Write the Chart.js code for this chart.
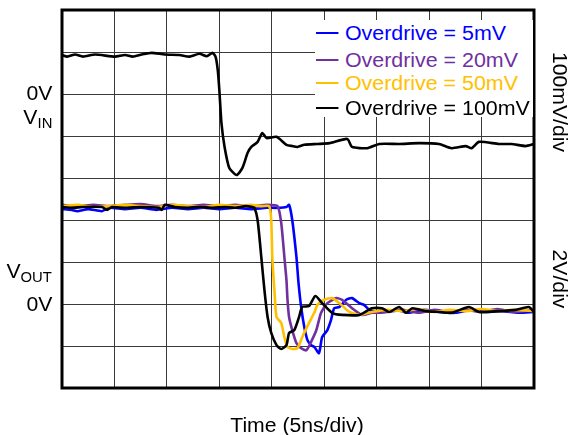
<!DOCTYPE html>
<html>
<head>
<meta charset="utf-8">
<script src="https://cdn.jsdelivr.net/npm/chart.js@4/dist/chart.umd.min.js"></script>
<style>
  body { margin: 0; background: #fff; }
  #wrap { position: relative; width: 569px; height: 435px; font-family: "Liberation Sans", Arial, sans-serif; }
  #plot { position: absolute; left: 0; top: 0; }
  .lbl { position: absolute; font-size: 20px; line-height: 20px; color: #000; white-space: nowrap; }
  .lbl sub { font-size: 14px; vertical-align: -4px; line-height: 0; }
  .left { right: 517px; text-align: right; transform: scaleX(1.06); transform-origin: right center; }
  .rot { width: 200px; text-align: center; transform: rotate(90deg) scaleX(1.06); }
  #legend { position: absolute; left: 315px; top: 20px; width: 218px; height: 97px; background: #fff; }
  #legend div { position: absolute; left: 1px; font-size: 20px; line-height: 20px; white-space: nowrap; transform: scaleX(1.07); transform-origin: left center; }
  #legend span { display: inline-block; width: 21px; border-top: 2px solid; vertical-align: 6px; margin-right: 6px; }
</style>
</head>
<body>
<div id="wrap">
  <canvas id="plot" width="569" height="435"></canvas>
  <div class="lbl left" style="top:83px">0V</div>
  <div class="lbl left" style="top:107px">V<sub>IN</sub></div>
  <div class="lbl left" style="top:261px">V<sub>OUT</sub></div>
  <div class="lbl left" style="top:294px">0V</div>
  <div class="lbl rot" style="left:460px; top:92px">100mV/div</div>
  <div class="lbl rot" style="left:460px; top:269px">2V/div</div>
  <div class="lbl" style="left:97px; top:415px; width:400px; text-align:center; transform:scaleX(1.06)">Time (5ns/div)</div>
  <div id="legend"></div>
</div>
<script>
// time in divisions (5ns/div), level in divisions from the bottom of the screen
const labels = ['Overdrive = 5mV', 'Overdrive = 20mV', 'Overdrive = 50mV', 'Overdrive = 100mV'];
const colors = ['#0000ff', '#7030a0', '#ffc000', '#000000'];

const vinT = [0, 0.1, 0.25, 0.4, 0.63, 1.01, 1.2, 1.35, 1.52, 1.71, 1.96, 2.24, 2.43, 2.62, 2.76, 2.87, 2.93,
  2.97, 3.0, 3.04, 3.1, 3.19, 3.33, 3.44, 3.54, 3.61, 3.73, 3.82, 3.9, 4.09, 4.28, 4.39, 4.49, 4.62, 4.87,
  5.1, 5.44, 5.53, 5.82, 6.05, 6.43, 6.81, 7.19, 7.43, 7.7, 7.81, 7.95, 8.33, 8.57, 8.84, 9.0];
const vinV = [7.93, 7.89, 7.94, 7.89, 7.94, 7.89, 7.93, 7.89, 7.94, 7.98, 7.94, 7.93, 7.89, 7.96, 7.9, 7.98, 7.88,
  7.57, 7.1, 6.31, 5.74, 5.24, 5.07, 5.24, 5.6, 5.74, 5.86, 6.07, 5.95, 5.98, 5.79, 5.76, 5.74, 5.79, 5.81,
  5.83, 5.93, 5.74, 5.71, 5.81, 5.81, 5.83, 5.81, 5.71, 5.76, 5.71, 5.86, 5.81, 5.81, 5.76, 5.81];

const out100T = [0, 0.19, 0.4, 0.76, 0.86, 0.95, 1.2, 1.5, 1.85, 1.9, 1.96, 2.15, 2.4, 2.62, 2.87, 3.1, 3.3, 3.5, 3.63,
  3.67, 3.73, 3.8, 3.86, 3.92, 3.99, 4.09, 4.18, 4.28, 4.33, 4.43, 4.52, 4.58, 4.71, 4.83, 4.96, 5.15, 5.34, 5.67,
  5.91, 6.1, 6.24, 6.43, 6.56, 6.68, 6.94, 7.19, 7.43, 7.76, 7.95, 8.33, 8.65, 8.9, 9.0];
const out100V = [4.31, 4.29, 4.31, 4.31, 4.24, 4.31, 4.29, 4.31, 4.29, 4.24, 4.36, 4.31, 4.29, 4.31, 4.29, 4.31, 4.29, 4.33, 4.31,
  4.29, 4.0, 3.12, 2.33, 1.69, 1.31, 1.02, 0.93, 1.02, 1.31, 1.38, 1.69, 1.93, 1.95, 2.19, 2.02, 1.79, 1.74, 1.74,
  1.9, 1.9, 1.81, 1.93, 1.79, 1.9, 1.83, 1.81, 1.79, 1.93, 1.81, 1.83, 1.86, 1.93, 1.81];

const out50T = [0, 0.3, 0.6, 0.9, 1.2, 1.5, 1.8, 2.1, 2.4, 2.7, 3.0, 3.3, 3.6, 3.8, 3.95,
  3.99, 4.01, 4.05, 4.09, 4.18, 4.24, 4.3, 4.39, 4.49, 4.58, 4.71, 4.81, 4.87, 5.0, 5.15, 5.29, 5.48, 5.67, 5.91,
  6.2, 6.5, 6.8, 7.1, 7.4, 7.7, 8.0, 8.3, 8.6, 9.0];
const out50V = [4.33, 4.36, 4.31, 4.33, 4.36, 4.33, 4.31, 4.36, 4.33, 4.31, 4.36, 4.33, 4.36, 4.33, 4.33,
  4.0, 3.12, 2.33, 1.69, 1.55, 1.21, 0.98, 0.93, 0.95, 1.21, 1.55, 1.79, 1.98, 2.1, 2.14, 2.02, 1.81, 1.74, 1.81,
  1.86, 1.83, 1.88, 1.81, 1.86, 1.83, 1.88, 1.83, 1.86, 1.83];

const out20T = [0, 0.3, 0.6, 0.9, 1.2, 1.5, 1.8, 2.1, 2.4, 2.7, 3.0, 3.3, 3.6, 3.9, 4.11,
  4.18, 4.24, 4.28, 4.3, 4.33, 4.39, 4.47, 4.56, 4.66, 4.75, 4.85, 4.94, 5.06, 5.23, 5.34, 5.53, 5.72, 5.91,
  6.2, 6.5, 6.8, 7.1, 7.4, 7.7, 8.0, 8.3, 8.6, 9.0];
const out20V = [4.36, 4.33, 4.36, 4.33, 4.36, 4.38, 4.33, 4.36, 4.33, 4.36, 4.33, 4.36, 4.33, 4.36, 4.33,
  3.93, 3.12, 2.57, 2.1, 1.69, 1.38, 1.07, 0.95, 0.9, 1.1, 1.38, 1.79, 2.02, 2.14, 2.1, 1.9, 1.74, 1.79,
  1.81, 1.86, 1.79, 1.86, 1.81, 1.86, 1.81, 1.88, 1.81, 1.86];

const out5T = [0, 0.19, 0.29, 0.5, 0.76, 0.9, 1.2, 1.5, 1.8, 2.1, 2.4, 2.7, 3.0, 3.3, 3.6, 3.9, 4.1, 4.28, 4.33,
  4.39, 4.47, 4.51, 4.56, 4.62, 4.68, 4.75, 4.81, 4.9, 4.96, 5.06, 5.13, 5.19, 5.29, 5.42, 5.53, 5.67, 5.76, 5.86, 6.05,
  6.37, 6.6, 6.9, 7.2, 7.5, 7.8, 8.1, 8.4, 8.7, 9.0];
const out5V = [4.26, 4.24, 4.21, 4.26, 4.21, 4.29, 4.26, 4.29, 4.24, 4.29, 4.26, 4.29, 4.26, 4.29, 4.26, 4.29, 4.29, 4.31, 4.36,
  4.0, 3.12, 2.5, 1.93, 1.45, 1.14, 1.02, 0.98, 0.83, 1.21, 1.38, 1.62, 1.9, 1.93, 2.1, 2.14, 2.02, 1.98, 1.86, 1.79,
  1.86, 1.79, 1.86, 1.81, 1.79, 1.86, 1.81, 1.83, 1.79, 1.81];

function toPoints(ts, vs) {
    return ts.map((t, i) => ({x: t, y: vs[i]}));
}

function trace(ts, vs, color) {
    return {
        data: toPoints(ts, vs),
        borderColor: color,
        borderWidth: 2.6,
        pointRadius: 0,
        tension: 0.2,
        fill: false
    };
}

// first dataset is drawn on top, so black goes first
const datasets = [
    trace(vinT, vinV, colors[3]),
    trace(out100T, out100V, colors[3]),
    trace(out50T, out50V, colors[2]),
    trace(out20T, out20V, colors[1]),
    trace(out5T, out5V, colors[0])
];

const legend = document.getElementById('legend');
const rowTops = [3, 30, 53, 78];
labels.forEach((l, i) => {
    const row = document.createElement('div');
    row.style.top = rowTops[i] + 'px';
    row.style.color = colors[i];
    row.innerHTML = '<span></span>' + l;
    legend.appendChild(row);
});

// thick frame round the screen, like the scope graticule
const frame = {
    id: 'frame',
    afterDraw(chart) {
        const a = chart.chartArea;
        const c = chart.ctx;
        c.save();
        c.strokeStyle = '#000';
        c.lineWidth = 3;
        c.strokeRect(a.left, a.top, a.right - a.left, a.bottom - a.top);
        c.restore();
    }
};

const gridLine = { color: '#3a3a3a', lineWidth: 1, drawTicks: false };

new Chart(document.getElementById('plot'), {
    type: 'line',
    data: { datasets },
    options: {
        responsive: false,
        animation: false,
        events: [],
        layout: { padding: { left: 62, right: 35, top: 10, bottom: 47 } },
        plugins: { legend: { display: false }, tooltip: { enabled: false } },
        scales: {
            x: {
                type: 'linear', min: 0, max: 9,
                ticks: { display: false, stepSize: 1 },
                grid: gridLine,
                border: { display: false }
            },
            y: {
                type: 'linear', min: 0, max: 9,
                ticks: { display: false, stepSize: 1 },
                grid: gridLine,
                border: { display: false }
            }
        }
    },
    plugins: [frame]
});
</script>
</body>
</html>
